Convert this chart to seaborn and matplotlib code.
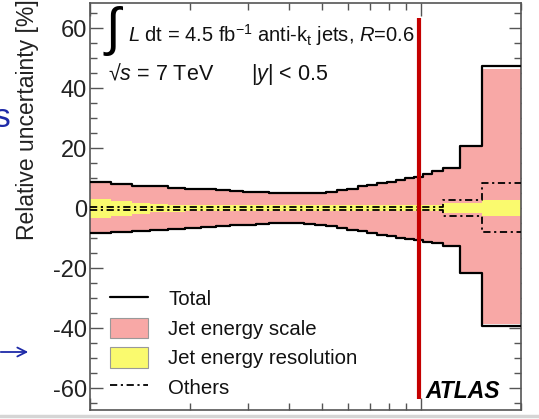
import numpy as np
import matplotlib
matplotlib.use("Agg")
import matplotlib.pyplot as plt
import seaborn as sns
from matplotlib.lines import Line2D
from matplotlib.patches import Patch
from matplotlib.ticker import LogLocator, MultipleLocator, NullFormatter

# ---------------- data ----------------
pt_edges = [100, 116, 134, 152, 172, 194, 216, 240, 264, 290, 318, 346, 376, 408,
            442, 478, 516, 556, 598, 642, 688, 736, 786, 838, 894, 952, 1012, 1076,
            1162, 1310, 1530, 2000]
total_up = [8.7, 8.0, 7.6, 7.3, 6.9, 6.6, 6.3, 6.0, 5.7, 5.5, 5.3, 5.1, 5.0, 5.0,
            5.0, 5.1, 5.6, 6.1, 6.6, 7.3, 7.8, 8.4, 8.9, 9.4, 10.0, 10.6, 11.5, 12.4,
            13.4, 20.9, 47.3]
total_down = [-8.3, -7.9, -7.5, -7.1, -6.8, -6.5, -6.2, -5.9, -5.6, -5.4, -5.2, -5.0,
              -4.9, -4.9, -5.1, -5.4, -6.0, -6.6, -7.1, -7.7, -8.3, -8.8, -9.3, -9.8,
              -10.2, -10.7, -11.2, -11.6, -12.7, -21.6, -39.2]
jes_up = [8.4, 7.7, 7.3, 7.0, 6.6, 6.3, 6.0, 5.7, 5.4, 5.2, 5.0, 4.8, 4.7, 4.7,
          4.7, 4.8, 5.3, 5.8, 6.3, 7.0, 7.5, 8.1, 8.6, 9.1, 9.7, 10.3, 11.2, 12.1,
          13.0, 20.5, 46.6]
jes_down = [-8.0, -7.6, -7.2, -6.8, -6.5, -6.2, -5.9, -5.6, -5.3, -5.1, -4.9, -4.7,
            -4.6, -4.6, -4.8, -5.1, -5.7, -6.3, -6.8, -7.4, -8.0, -8.5, -9.0, -9.5,
            -9.9, -10.4, -10.9, -11.3, -12.3, -21.2, -38.6]
jer_up = [3.1, 2.6, 1.8, 1.3, 1.1, 1.0, 1.0, 1.0, 1.0, 1.0, 1.0, 1.0, 1.0, 1.0,
          1.0, 1.0, 1.0, 1.0, 1.0, 1.0, 1.0, 1.0, 1.0, 1.0, 1.0, 1.0, 1.0, 1.0,
          1.9, 1.9, 2.8]
jer_down = [-3.1, -2.6, -1.8, -1.3, -1.1, -1.0, -1.0, -1.0, -1.0, -1.0, -1.0, -1.0,
            -1.0, -1.0, -1.0, -1.0, -1.0, -1.0, -1.0, -1.0, -1.0, -1.0, -1.0, -1.0,
            -1.0, -1.0, -1.0, -1.0, -1.5, -1.5, -2.6]
others_up = [0.5] * 28 + [2.7, 2.7, 8.5]
others_down = [-0.5] * 28 + [-2.4, -2.4, -8.0]
cut_pt = 985
legend_labels = ["Total", "Jet energy scale", "Jet energy resolution", "Others"]
y_major = [-60, -40, -20, 0, 20, 40, 60]

# ---------------- style ----------------
sns.set_theme(style="ticks")
plt.rcParams["font.family"] = ["Liberation Sans", "DejaVu Sans"]
plt.rcParams["mathtext.fontset"] = "custom"
plt.rcParams["mathtext.rm"] = "Liberation Sans"
plt.rcParams["mathtext.it"] = "Liberation Sans:italic"
plt.rcParams["mathtext.bf"] = "Liberation Sans:bold"
plt.rcParams["axes.unicode_minus"] = False

W, H = 539, 419
fig = plt.figure(figsize=(W / 100, H / 100), dpi=100)
fig.patch.set_facecolor("white")
ax_l, ax_r, ax_t, ax_b = 90, 521, 3.5, 410
ax = fig.add_axes([ax_l / W, 1 - ax_b / H, (ax_r - ax_l) / W, (ax_b - ax_t) / H])

pink = "#F8A8A6"
yellow = "#FAFA6E"


def ext(v):
    return list(v) + [v[-1]]


ax.fill_between(pt_edges, ext(jes_down), ext(jes_up), step="post",
                color=pink, lw=0, zorder=1)
ax.fill_between(pt_edges, ext(jer_down), ext(jer_up), step="post",
                color=yellow, lw=0, zorder=2)

dashdot = (0, (4, 2, 1.2, 2))
for arr in (others_up, others_down):
    sns.lineplot(x=pt_edges, y=ext(arr), drawstyle="steps-post", color="black",
                 lw=1.3, linestyle=dashdot, ax=ax, estimator=None, legend=False,
                 zorder=3)
for arr in (total_up, total_down):
    sns.lineplot(x=pt_edges, y=ext(arr), drawstyle="steps-post", color="black",
                 lw=1.6, ax=ax, estimator=None, legend=False, zorder=4)

# red vertical marker
ax.plot([cut_pt, cut_pt], [63.5, -63.5], color="#C40000", lw=3.0, zorder=5,
        solid_capstyle="butt")

ax.set_xscale("log")
ax.set_xlim(pt_edges[0], pt_edges[-1])
ax.set_ylim(-67.2, 68.3)
ax.set_yticks(y_major)
ax.yaxis.set_minor_locator(MultipleLocator(5))
ax.xaxis.set_major_locator(LogLocator(base=10, subs=(1.0,)))
ax.xaxis.set_minor_locator(LogLocator(base=10, subs=np.arange(2, 10)))
ax.xaxis.set_major_formatter(NullFormatter())
ax.xaxis.set_minor_formatter(NullFormatter())
ax.tick_params(which="both", direction="in", top=True, right=True,
               color="#555555", width=1.0)
ax.tick_params(which="major", length=9, labelsize=17, pad=2, labelcolor="#222222")
ax.tick_params(which="minor", length=5)
for s in ax.spines.values():
    s.set_color("#555555")
    s.set_linewidth(1.2)

ax.set_ylabel("Relative uncertainty [%]", fontsize=16.5, loc="top", color="#222222")
ax.yaxis.set_label_coords((39 - ax_l) / (ax_r - ax_l), (ax_b + 1) / (ax_b - ax_t))

# annotations
def fx(px):
    return px / W


def fy(py):
    return 1 - py / H


fig.text(fx(113), fy(31), "\u222b", fontsize=38, ha="center", va="center",
         color="black")
fig.text(fx(128), fy(42), r"$L$ dt = 4.5 fb$^{-1}$ anti-k$_{\rm t}$ jets, $R$=0.6",
         fontsize=14.5, ha="left", va="baseline", color="#111111")
fig.text(fx(108), fy(80), "\u221a$s$ = 7 TeV", fontsize=15.5, ha="left",
         va="baseline", color="#111111")
fig.text(fx(251), fy(80), r"$|y|$ < 0.5", fontsize=15.5, ha="left",
         va="baseline", color="#111111")
fig.text(fx(425), fy(398), "ATLAS", fontsize=16.5, fontweight="bold",
         fontstyle="italic", ha="left", va="baseline", color="black")

# legend
handles = [
    Line2D([0], [0], color="black", lw=1.6),
    Patch(facecolor=pink, edgecolor="#999999", lw=0.8),
    Patch(facecolor=yellow, edgecolor="#999999", lw=0.8),
    Line2D([0], [0], color="black", lw=1.3, linestyle=dashdot),
]
ax.legend(handles, legend_labels, loc="upper left",
          bbox_to_anchor=(fx(110), fy(288)), bbox_transform=fig.transFigure,
          frameon=False, fontsize=14.7, handlelength=1.85, handleheight=1.15,
          handletextpad=1.0, labelspacing=0.42, borderpad=0, borderaxespad=0,
          labelcolor="#111111")

# slide artefacts around the figure
fig.text(-0.012, fy(118), "s", fontsize=24, color="#1E2AA8", ha="left",
         va="center")
ax.annotate("", xy=(fx(31), fy(352)), xytext=(fx(-2), fy(352)),
            xycoords="figure fraction", textcoords="figure fraction",
            arrowprops=dict(arrowstyle="->", color="#1E2AA8", lw=1.3,
                            mutation_scale=16), annotation_clip=False)
fig.add_artist(Line2D([0, 1], [fy(416), fy(416)], transform=fig.transFigure,
                      color="#D5D5D5", lw=2.5))

fig.savefig("out.png", dpi=100)
